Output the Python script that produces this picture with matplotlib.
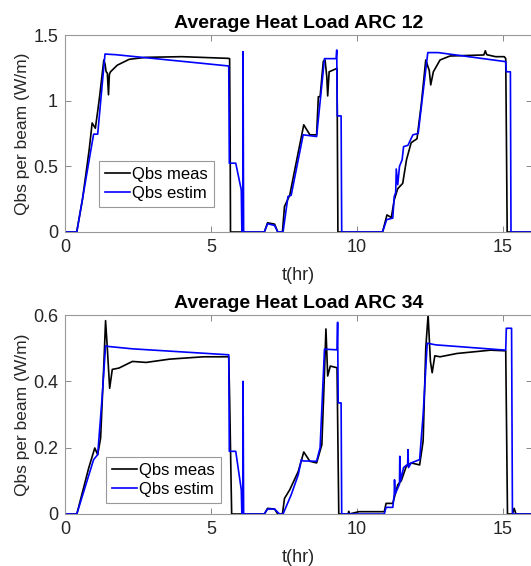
import matplotlib
matplotlib.use("Agg")
import matplotlib.pyplot as plt

plt.rcParams['font.family'] = ['Liberation Sans', 'DejaVu Sans']

# ---------------- data (hours, W/m) ----------------
# ARC 12 - measured
t12_meas = [0.0, 0.40, 0.60, 0.83, 0.93, 1.04, 1.12, 1.19, 1.33, 1.37, 1.41, 1.45, 1.49, 1.52, 1.56, 1.79, 2.2, 2.78,
            4.0, 5.61, 5.64, 5.66, 5.67, 6.83, 6.94, 7.18, 7.29, 7.45, 7.52, 7.70, 7.85, 8.18, 8.39, 8.62, 8.68, 8.74,
            8.85, 8.91, 8.97, 9.0, 9.05, 9.32, 9.35, 10.88, 11.03, 11.18, 11.28, 11.40, 11.57, 11.70, 11.86, 12.06,
            12.21, 12.36, 12.48, 12.53, 12.62, 12.85, 13.19, 14.35, 14.40, 14.45, 14.75, 15.05, 15.10, 15.12, 15.15, 16.0]
v12_meas = [0.0, 0.0, 0.25, 0.63, 0.83, 0.79, 0.92, 1.04, 1.31, 1.28, 1.22, 1.21, 1.045, 1.2, 1.22, 1.27, 1.315, 1.33,
            1.335, 1.322, 1.32, 0.63, 0.0, 0.0, 0.07, 0.06, 0.0, 0.0, 0.195, 0.28, 0.45, 0.816, 0.74, 0.74, 1.03, 1.03,
            1.30, 1.31, 1.18, 1.036, 1.22, 1.246, 0.0, 0.0, 0.13, 0.11, 0.245, 0.33, 0.37, 0.55, 0.68, 0.71,
            0.98, 1.31, 1.23, 1.12, 1.22, 1.31, 1.34, 1.348, 1.38, 1.35, 1.335, 1.335, 1.32, 0.80, 0.0, 0.0]
# ARC 12 - estimated
t12_est = [0.0, 0.405, 0.98, 1.12, 1.37, 1.74, 5.61, 5.63, 5.85, 6.04, 6.06, 6.09, 6.10, 6.12, 6.83, 6.94, 7.18, 7.29,
           7.47, 7.64, 7.75, 8.16, 8.62, 8.89, 9.29, 9.31, 9.33, 9.35, 9.46, 9.48, 10.88, 11.02, 11.23, 11.28, 11.33,
           11.35, 11.40, 11.46, 11.55, 11.60, 11.75, 11.92, 12.10, 12.43, 12.79, 15.10, 15.12, 15.26, 15.28, 16.0]
v12_est = [0.0, 0.0, 0.745, 0.745, 1.355, 1.35, 1.264, 0.524, 0.524, 0.32, 0.0, 0.0, 1.373, 0.0, 0.0, 0.063, 0.05, 0.0,
           0.0, 0.27, 0.28, 0.74, 0.727, 1.32, 1.32, 1.386, 0.884, 0.884, 0.884, 0.0, 0.0, 0.094, 0.106, 0.27, 0.30,
           0.48, 0.36, 0.50, 0.55, 0.65, 0.66, 0.74, 0.75, 1.366, 1.366, 1.297, 1.22, 1.22, 0.0, 0.0]

# ARC 34 - measured
t34_meas = [0.0, 0.405, 0.81, 1.02, 1.12, 1.22, 1.33, 1.39, 1.45, 1.53, 1.62, 1.85, 2.31, 2.78, 3.59, 4.75, 5.61, 5.64,
            5.71, 6.83, 6.94, 7.18, 7.29, 7.45, 7.52, 7.70, 7.99, 8.18, 8.39, 8.62, 8.80, 8.88, 8.94, 9.0, 9.09, 9.32,
            9.38, 9.70, 9.72, 9.74, 10.07, 10.94, 11.0, 11.23, 11.40, 11.52, 11.69, 11.86, 12.15, 12.27, 12.36, 12.44,
            12.52, 12.58, 12.67, 12.85, 13.43, 14.58, 15.10, 15.16, 15.33, 15.39, 15.45, 16.0]
v34_meas = [0.0, 0.0, 0.138, 0.199, 0.179, 0.229, 0.45, 0.583, 0.5, 0.379, 0.436, 0.44, 0.46, 0.457, 0.467, 0.474, 0.474,
            0.35, 0.0, 0.0, 0.017, 0.015, 0.0, 0.0, 0.047, 0.073, 0.128, 0.187, 0.159, 0.154, 0.209, 0.40, 0.558, 0.416,
            0.446, 0.441, 0.0, 0.0, 0.008, 0.0, 0.007, 0.007, 0.032, 0.032, 0.088, 0.10, 0.143, 0.154, 0.148, 0.22,
            0.50, 0.60, 0.46, 0.426, 0.477, 0.474, 0.484, 0.494, 0.492, 0.0, 0.0, 0.017, 0.0, 0.0]
# ARC 34 - estimated
t34_est = [0.0, 0.405, 0.98, 1.12, 1.27, 1.39, 1.50, 2.31, 5.61, 5.63, 5.85, 6.04, 6.06, 6.09, 6.10, 6.12, 6.83, 6.94,
           7.18, 7.35, 7.47, 7.75, 7.99, 8.10, 8.15, 8.62, 8.74, 8.89, 9.32, 9.34, 9.36, 9.46, 9.48, 10.94, 11.0, 11.23,
           11.28, 11.29, 11.31, 11.46, 11.47, 11.50, 11.60, 11.74, 11.75, 11.77, 11.86, 12.15, 12.27, 12.41, 12.70,
           15.10, 15.12, 15.30, 15.33, 16.0]
v34_est = [0.0, 0.0, 0.164, 0.179, 0.35, 0.507, 0.505, 0.498, 0.48, 0.189, 0.189, 0.073, 0.0, 0.0, 0.40, 0.0, 0.0, 0.015,
           0.015, 0.0, 0.0, 0.058, 0.118, 0.164, 0.16, 0.159, 0.2, 0.497, 0.495, 0.578, 0.335, 0.335, 0.0, 0.0, 0.02,
           0.02, 0.06, 0.103, 0.06, 0.09, 0.174, 0.10, 0.14, 0.15, 0.194, 0.14, 0.154, 0.164, 0.30, 0.515, 0.51,
           0.494, 0.56, 0.56, 0.0, 0.0]

panels = [
    dict(title='Average Heat Load ARC 12', tm=t12_meas, vm=v12_meas, te=t12_est, ve=v12_est,
         ylim=(0, 1.5), yticks=[0, 0.5, 1, 1.5], ylabels=['0', '0.5', '1', '1.5'],
         rect=[65/531, 1-232/566, 467/531, 197/566], leg=(0.073, 0.127)),
    dict(title='Average Heat Load ARC 34', tm=t34_meas, vm=v34_meas, te=t34_est, ve=v34_est,
         ylim=(0, 0.6), yticks=[0, 0.2, 0.4, 0.6], ylabels=['0', '0.2', '0.4', '0.6'],
         rect=[65/531, 1-514/566, 467/531, 199/566], leg=(0.088, 0.056)),
]
xticks = [0, 5, 10, 15]

fig = plt.figure(figsize=(5.31, 5.66), dpi=100)
for p in panels:
    ax = fig.add_axes(p['rect'])
    ax.plot(p['tm'], p['vm'], color='black', lw=1.2, label='Qbs meas')
    ax.plot(p['te'], p['ve'], color='#0000ff', lw=1.2, label='Qbs estim')
    ax.set_xlim(0, 16)
    ax.set_ylim(*p['ylim'])
    ax.set_xticks(xticks)
    ax.set_xticklabels([str(x) for x in xticks])
    ax.set_yticks(p['yticks'])
    ax.set_yticklabels(p['ylabels'])
    ax.tick_params(direction='in', top=True, right=True, length=4, width=0.7,
                   color='#888888', labelcolor='#262626', labelsize=13, pad=5)
    for s in ax.spines.values():
        s.set_color('#999999')
        s.set_linewidth(0.8)
    ax.set_title(p['title'], fontsize=14, fontweight='bold', pad=5)
    ax.set_xlabel('t(hr)', fontsize=13, color='#262626', labelpad=8)
    ax.set_ylabel('Qbs per beam (W/m)', fontsize=12.5, color='#262626', labelpad=2)
    leg = ax.legend(loc='lower left', bbox_to_anchor=p['leg'], fontsize=12, fancybox=False,
                    edgecolor='#999999', framealpha=1, handlelength=1.5, handletextpad=0.15,
                    borderpad=0.35, labelspacing=0.25, borderaxespad=0)
    leg.get_frame().set_linewidth(0.8)

fig.savefig('out.png', dpi=100)
